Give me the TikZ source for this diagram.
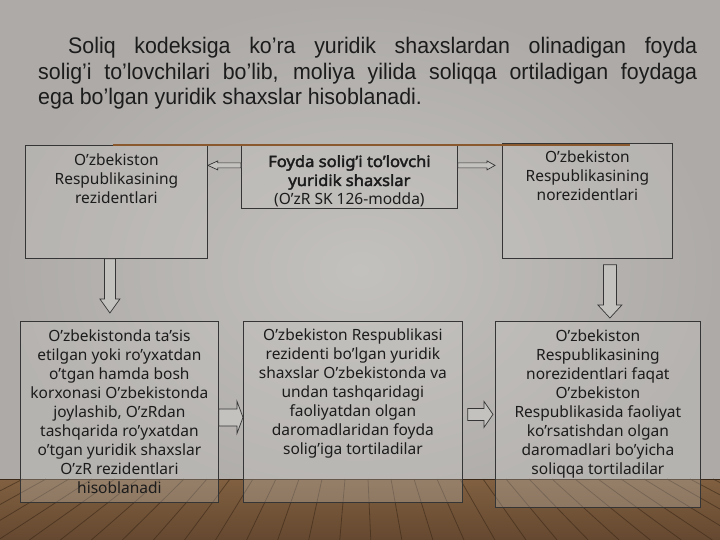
\documentclass[tikz,border=0pt]{standalone}
\usepackage{fontspec}
\setmainfont{Noto Sans}[BoldFont={Noto Sans},BoldFeatures={FakeBold=2.5,FakeStretch=1.07}]
\newfontfamily\titlefont{Liberation Sans}[FakeStretch=0.95]
\usetikzlibrary{calc}
\definecolor{bgin}{HTML}{C3C1BE}
\definecolor{bgout}{HTML}{ADAAA7}
\definecolor{woodtop}{HTML}{806040}
\definecolor{woodbot}{HTML}{654830}
\definecolor{plankc}{HTML}{3B2817}
\definecolor{boxline}{HTML}{353535}
\definecolor{boxfill}{HTML}{CAC8C5}
\definecolor{arrfill}{HTML}{C4C2BF}
\definecolor{brownline}{HTML}{8A5A2E}
\definecolor{txtc}{HTML}{1C1C1C}
\newcommand\hblock[5]{%
  \draw[blockarrow] let \p1=(#1), \p2=(#2), \n1={sign(\x2-\x1)} in
   (\x1,\y1+#3) -- ({\x2-(\n1)*#5},\y1+#3) -- ({\x2-(\n1)*#5},\y1+#4) -- (\x2,\y1)
   -- ({\x2-(\n1)*#5},\y1-#4) -- ({\x2-(\n1)*#5},\y1-#3) -- (\x1,\y1-#3) -- cycle;}
\newcommand\vblock[5]{%
  \draw[blockarrow] let \p1=(#1), \p2=(#2), \n1={sign(\y2-\y1)} in
   (\x1+#3,\y1) -- (\x1+#3,{\y2-(\n1)*#5}) -- (\x1+#4,{\y2-(\n1)*#5}) -- (\x1,\y2)
   -- (\x1-#4,{\y2-(\n1)*#5}) -- (\x1-#3,{\y2-(\n1)*#5}) -- (\x1-#3,\y1) -- cycle;}
\begin{document}
\begin{tikzpicture}[x=1pt,y=-1pt,
  box/.style={draw=boxline, line width=0.8pt, fill=boxfill, fill opacity=0.3, inner sep=0pt},
  txt/.style={inner sep=0pt, align=center, text=txtc, font=\fontsize{15.5}{19}\selectfont},
  blockarrow/.style={draw=boxline, line width=0.7pt, fill=arrfill},
  plank/.style={draw=plankc, line width=0.8pt, opacity=0.6}]
\useasboundingbox (0,0) rectangle (720,540);
% background
\shade[inner color=bgin, outer color=bgout] (0,0) rectangle (720,540);
% floor
\shade[top color=woodtop, bottom color=woodbot] (0,479) rectangle (720,540);
\foreach \i in {-8,...,36} \draw[plank] ({\i*23},479) -- ({360+(\i*23-360)*1.35},540);
\draw[plankc, line width=1pt] (0,479) -- (720,479);
% title
\node[anchor=north west, inner sep=0pt, text width=659pt, align=justify, text=txtc,
      font=\titlefont\fontsize{22.5}{25.5}\selectfont] (title) at (38,37)
  {\hspace*{30pt}Soliq kodeksiga ko’ra yuridik shaxslardan olinadigan foyda\linebreak
   solig’i to’lovchilari bo’lib, moliya yilida soliqqa ortiladigan foydaga\linebreak
   ega bo’lgan yuridik shaxslar hisoblanadi.};
% boxes
\node[box, anchor=north west, minimum width=182pt, minimum height=113pt] (A) at (25,145) {};
\node[box, anchor=north west, minimum width=216pt, minimum height=63pt] (B) at (241,145) {};
\node[box, anchor=north west, minimum width=170pt, minimum height=115pt] (C) at (502,143) {};
\node[box, anchor=north west, minimum width=198pt, minimum height=181pt] (D) at (20,321) {};
\node[box, anchor=north west, minimum width=219pt, minimum height=181pt] (E) at (243,321) {};
\node[box, anchor=north west, minimum width=205pt, minimum height=186pt] (F) at (495,321) {};
% brown line
\draw[brownline, line width=2pt] (113,145) -- (630,145);
% texts
\node[txt, anchor=north] (At) at ($(A.north)+(0,9)$) {O’zbekiston\\Respublikasining\\rezidentlari};
\node[txt, anchor=north] (Bt) at ($(B.north)+(0,10)$) {\textbf{Foyda solig’i to’lovchi}\\\textbf{yuridik shaxslar}\\(O’zR SK 126-modda)};
\node[txt, anchor=north] (Ct) at ($(C.north)+(0,8)$) {O’zbekiston\\Respublikasining\\norezidentlari};
\node[txt, anchor=north] (Dt) at ($(D.north)+(0,9)$) {O’zbekistonda ta’sis\\etilgan yoki ro’yxatdan\\o’tgan hamda bosh\\korxonasi O’zbekistonda\\joylashib, O’zRdan\\tashqarida ro’yxatdan\\o’tgan yuridik shaxslar\\O’zR rezidentlari\\hisoblanadi};
\node[txt, anchor=north] (Et) at ($(E.north)+(0,8)$) {O’zbekiston Respublikasi\\rezidenti bo’lgan yuridik\\shaxslar O’zbekistonda va\\undan tashqaridagi\\faoliyatdan olgan\\daromadlaridan foyda\\solig’iga tortiladilar};
\node[txt, anchor=north] (Ft) at ($(F.north)+(0,9)$) {O’zbekiston\\Respublikasining\\norezidentlari faqat\\O’zbekiston\\Respublikasida faoliyat\\ko’rsatishdan olgan\\daromadlari bo’yicha\\soliqqa tortiladilar};
% arrows
\coordinate (ba) at ($(B.west)+(0,-11.5)$);
\hblock{ba}{A.east |- ba}{2.5pt}{4.5pt}{10pt}
\coordinate (bc) at ($(B.east)+(0,-11.5)$);
\coordinate (bcx) at ($(C.west |- bc)+(-7,0)$);
\hblock{bc}{bcx}{2.5pt}{4.5pt}{8pt}
\coordinate (ad) at ($(A.south)+(-6.5,0)$);
\coordinate (adx) at ($(ad |- D.north)+(0,-8)$);
\vblock{ad}{adx}{5.5pt}{10pt}{14pt}
\coordinate (cf) at ($(C.south)+(22.5,6)$);
\coordinate (cfx) at ($(cf |- F.north)+(0,-3)$);
\vblock{cf}{cfx}{6.5pt}{12pt}{13pt}
\coordinate (de) at ($(D.east)+(0,5.5)$);
\hblock{de}{E.west |- de}{8.5pt}{16pt}{6pt}
\coordinate (ef) at ($(E.east)+(5,2.5)$);
\coordinate (efx) at ($(F.west |- ef)+(-2,0)$);
\hblock{ef}{efx}{6pt}{13pt}{9pt}
\end{tikzpicture}
\end{document}
